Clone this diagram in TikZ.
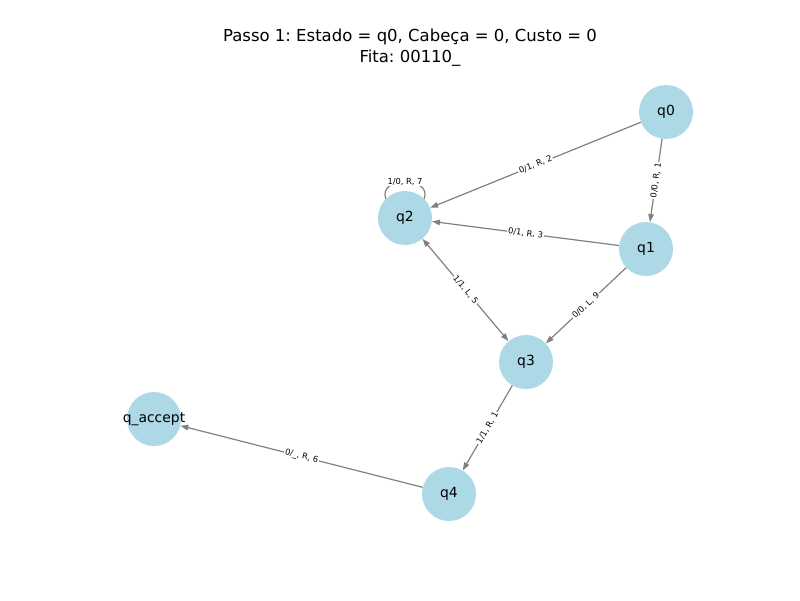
\documentclass[tikz,border=0pt]{standalone}
\usepackage{xcolor}
\usepackage{fontspec}
\setmainfont{DejaVu Sans}
\usepackage{tikz}
\usetikzlibrary{arrows.meta}
\frenchspacing

\definecolor{stfill}{RGB}{173,216,230}
\definecolor{edgegray}{RGB}{128,128,128}
\tikzset{
    state/.style={circle, fill=stfill, minimum size=54pt, inner sep=0pt, font=\fontsize{13.9}{16}\selectfont},
    trans/.style={draw=edgegray, line width=1.2pt, -{Triangle[length=8pt,width=5.5pt]}},
    tlabel/.style={fill=white, inner sep=1pt, font=\fontsize{8.3}{10}\selectfont}
}

\begin{document}
\begin{tikzpicture}[x=1pt,y=-1pt]
    \useasboundingbox (0,0) rectangle (800,600);

    % title
    \node[align=center, font=\fontsize{16.5}{21}\selectfont] (title) at (410,47.5)
        {Passo 1: Estado = q0, Cabeça = 0, Custo = 0\\Fita: 00110\_};

    % states
    \node[state] (q0) at (666,112) {q0};
    \node[state] (q1) at (646,249) {q1};
    \node[state] (q2) at (405,218) {q2};
    \node[state] (q3) at (526,362) {q3};
    \node[state] (q4) at (449,494) {q4};
    \node[state] (qa) at (154,419) {\makebox[0pt]{q\_accept}}; % text wider than circle

    % transitions
    \draw[trans] (q0) -- (q1) node[tlabel, midway, sloped] {0/0, R, 1};
    \draw[trans] (q0) -- (q2) node[tlabel, midway, sloped] {0/1, R, 2};
    \draw[trans] (q1) -- (q2) node[tlabel, midway, sloped] {0/1, R, 3};
    \draw[trans] (q1) -- (q3) node[tlabel, midway, sloped] {0/0, L, 9};
    \draw[trans, {Triangle[length=8pt,width=5.5pt]}-{Triangle[length=8pt,width=5.5pt]}] (q2) -- (q3) node[tlabel, midway, sloped] {1/1, L, 5};
    \draw[trans] (q3) -- (q4) node[tlabel, midway, sloped] {1/1, R, 1};
    \draw[trans] (q4) -- (qa) node[tlabel, midway, sloped] {0/\_, R, 6};
    \draw[trans, -] (q2.135) to[out=110, in=70, looseness=1.6] node[tlabel, midway] {1/0, R, 7} (q2.45);
\end{tikzpicture}
\end{document}
